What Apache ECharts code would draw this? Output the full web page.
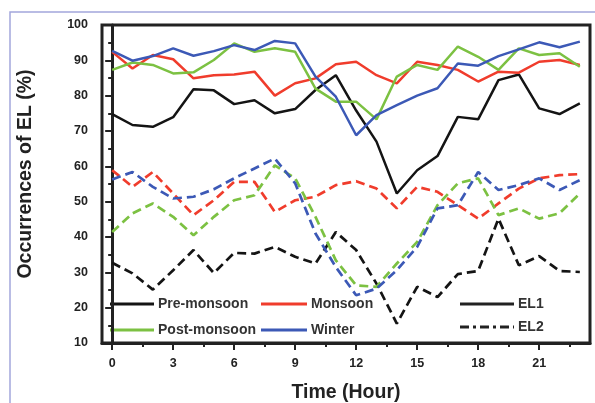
<!DOCTYPE html>
<html><head><meta charset="utf-8">
<script src="https://cdn.jsdelivr.net/npm/echarts@6/dist/echarts.min.js"></script>
<style>html,body{margin:0;padding:0;background:#fff}#c{width:595px;height:403px}</style>
</head><body><div id="c"></div>
<script>
const hours = [0,1,2,3,4,5,6,7,8,9,10,11,12,13,14,15,16,17,18,19,20,21,22,23];
const xMajorTicks = [0,3,6,9,12,15,18,21];
const xMinorTicks = [1.5,4.5,7.5,10.5,13.5,16.5,19.5,22.5];
// EL1 (solid)
const preMonsoonEL1  = [74.8,71.7,71.2,73.9,81.8,81.5,77.6,78.7,75.0,76.2,81.6,85.8,75.8,67.0,52.3,58.9,62.9,74.0,73.3,84.4,86.0,76.4,74.8,77.8];
const monsoonEL1     = [92.4,87.7,91.5,90.3,84.9,85.8,86.0,86.8,80.0,83.5,84.9,88.9,89.6,85.8,83.5,89.6,88.7,87.3,84.0,86.8,86.5,89.6,90.1,88.7];
const postMonsoonEL1 = [87.3,89.4,88.7,86.3,86.6,90.1,94.8,92.4,93.4,92.4,82.0,78.3,78.3,73.3,85.4,88.7,87.3,93.9,91.0,87.3,93.4,91.5,92.0,88.2];
const winterEL1      = [92.7,89.9,91.2,93.4,91.3,92.6,94.3,92.9,95.5,94.8,85.4,79.7,68.8,74.5,77.3,80.0,82.1,89.1,88.5,91.2,93.1,95.1,93.7,95.3];
// EL2 (dashed)
const preMonsoonEL2  = [32.7,29.7,25.1,30.6,36.3,29.8,35.5,35.3,37.2,34.4,32.5,41.4,36.3,26.8,15.5,25.9,23.0,29.5,30.4,45.2,32.0,34.6,30.4,30.1];
const monsoonEL2     = [58.9,54.2,58.4,52.3,46.2,50.4,55.6,55.6,47.1,50.4,51.4,54.7,55.8,53.7,48.1,54.2,52.8,49.0,45.2,49.5,53.7,56.6,57.5,57.8];
const postMonsoonEL2 = [41.4,46.7,49.5,45.7,40.5,45.7,50.4,51.8,60.3,56.6,45.7,33.4,26.3,25.9,32.5,38.6,49.0,55.2,56.6,46.2,48.1,45.2,46.7,52.3];
const winterEL2      = [56.3,58.4,54.2,50.9,51.4,53.5,56.6,59.4,62.2,55.2,41.0,31.5,23.5,25.4,30.6,37.2,48.1,49.0,58.4,53.3,54.7,56.6,53.3,56.1];

const C = {pre:'#141414', mon:'#f03c2c', post:'#7cc142', win:'#3c59b6'};
const pairs = a => hours.map((h,i)=>[h,a[i]]);
const dash = [9,5];
function s(name, arr, color, dashed){
  return {name, type:'line', data:pairs(arr), symbol:'none', xAxisIndex:0,
    lineStyle:{color, width: dashed?2.7:2.5, type: dashed?dash:'solid'}, z: dashed?2:3, silent:true, animation:false};
}
const font = 'Liberation Sans, Arial, sans-serif';
const chart = echarts.init(document.getElementById('c'), null, {renderer:'canvas'});
const lbl = {fontFamily:font, fontWeight:'bold', fontSize:12.5, color:'#222'};
function legItem(x1,x2,y,color,text,lineType){
  const items = [{type:'line', shape:{x1,y1:y,x2,y2:y}, style:{stroke:color, lineWidth:3, lineDash: lineType||null}}];
  if(text) items.push({type:'text', x:x2+4, y:y, style:{text, fill:'#333', font:'bold 14px '+font, textVerticalAlign:'middle'}});
  return items;
}
chart.setOption({
  animation:false,
  grid:{left:102, right:5, top:25, bottom:60, show:true, borderColor:'#222', borderWidth:3, backgroundColor:'transparent'},
  xAxis:[
    {type:'value', min:-0.5, max:23.5, position:'bottom',
     axisLine:{show:true, lineStyle:{color:'#222', width:3}},
     axisTick:{show:true, customValues:xMajorTicks, length:7, lineStyle:{color:'#222', width:2}},
     axisLabel:{show:true, customValues:xMajorTicks, margin:14, ...lbl},
     splitLine:{show:false}},
    {type:'value', min:-0.5, max:23.5, position:'bottom',
     axisLine:{show:false},
     axisTick:{show:true, customValues:xMinorTicks, length:4, lineStyle:{color:'#222', width:2}},
     axisLabel:{show:false}, splitLine:{show:false}}
  ],
  yAxis:{type:'value', min:10, max:100, interval:10,
     axisLine:{show:true, lineStyle:{color:'#222', width:3}},
     axisTick:{show:true, length:7, lineStyle:{color:'#222', width:2}},
     minorTick:{show:true, splitNumber:2, length:4, lineStyle:{color:'#222', width:2}},
     axisLabel:{margin:14, ...lbl}, splitLine:{show:false}},
  series:[
    s('Pre-monsoon EL2', preMonsoonEL2, C.pre, true),
    s('Monsoon EL2', monsoonEL2, C.mon, true),
    s('Post-monsoon EL2', postMonsoonEL2, C.post, true),
    s('Winter EL2', winterEL2, C.win, true),
    s('Pre-monsoon EL1', preMonsoonEL1, C.pre, false),
    s('Monsoon EL1', monsoonEL1, C.mon, false),
    s('Post-monsoon EL1', postMonsoonEL1, C.post, false),
    s('Winter EL1', winterEL1, C.win, false)
  ],
  graphic:[
    {type:'rect', shape:{x:10, y:12, width:600, height:400}, style:{fill:null, stroke:'#a3a6dc', lineWidth:1.5}, silent:true},
    {type:'text', x:26, y:174, rotation:Math.PI/2, style:{text:'Occurrences of EL (%)', fill:'#222', font:'bold 19.5px '+font, textAlign:'center', textVerticalAlign:'middle'}},
    {type:'text', x:346, y:393, style:{text:'Time (Hour)', fill:'#222', font:'bold 19.5px '+font, textAlign:'center', textVerticalAlign:'middle'}},
    ...legItem(110,154,304,C.pre,'Pre-monsoon'),
    ...legItem(261,307,304,C.mon,'Monsoon'),
    ...legItem(110,154,330,C.post,'Post-monsoon'),
    ...legItem(261,307,330,C.win,'Winter'),
    ...legItem(460,514,304,'#222','EL1'),
    ...legItem(460,514,327,'#222','EL2',[9,4,3,4])
  ]
});
</script></body></html>
